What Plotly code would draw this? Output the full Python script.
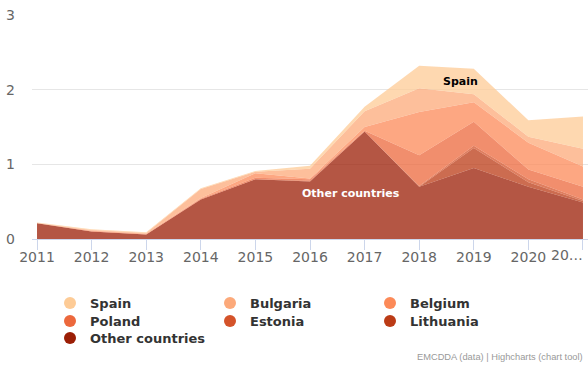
import plotly.graph_objects as go

# Years on the horizontal axis and their tick labels
years = [2011, 2012, 2013, 2014, 2015, 2016, 2017, 2018, 2019, 2020, 2021]
year_labels = ["2011", "2012", "2013", "2014", "2015", "2016", "2017",
               "2018", "2019", "2020", "20…"]

# Per-country values (stacked)
spain = [0.005, 0.01, 0.01, 0.01, 0.01, 0.04, 0.06, 0.30, 0.34, 0.22, 0.43]
bulgaria = [0.005, 0.01, 0.01, 0.12, 0.02, 0.13, 0.21, 0.32, 0.11, 0.08, 0.24]
belgium = [0.0, 0.01, 0.01, 0.01, 0.06, 0.01, 0.05, 0.58, 0.26, 0.36, 0.27]
poland = [0.0, 0.0, 0.0, 0.01, 0.02, 0.02, 0.01, 0.41, 0.32, 0.13, 0.17]
estonia = [0.0, 0.0, 0.0, 0.0, 0.0, 0.01, 0.0, 0.01, 0.03, 0.04, 0.02]
lithuania = [0.0, 0.0, 0.0, 0.0, 0.0, 0.0, 0.0, 0.0, 0.27, 0.06, 0.02]
other_countries = [0.21, 0.10, 0.06, 0.53, 0.80, 0.77, 1.44, 0.70, 0.95, 0.70, 0.49]

y_ticks = [0, 1, 2, 3]

# Legend order (top of the stack first)
legend_order = ["Spain", "Bulgaria", "Belgium", "Poland", "Estonia",
                "Lithuania", "Other countries"]
series = {
    "Spain": spain,
    "Bulgaria": bulgaria,
    "Belgium": belgium,
    "Poland": poland,
    "Estonia": estonia,
    "Lithuania": lithuania,
    "Other countries": other_countries,
}
palette = {
    "Spain": (253, 203, 150),
    "Bulgaria": (252, 169, 122),
    "Belgium": (252, 138, 88),
    "Poland": (236, 104, 60),
    "Estonia": (212, 83, 42),
    "Lithuania": (187, 59, 22),
    "Other countries": (155, 30, 5),
}
# Three legend rows of up to three entries each
legend_rows = {
    "Spain": "legend", "Bulgaria": "legend", "Belgium": "legend",
    "Poland": "legend2", "Estonia": "legend2", "Lithuania": "legend2",
    "Other countries": "legend3",
}


def rgb(c, a=1.0):
    return f"rgba({c[0]},{c[1]},{c[2]},{a})"


FONT = "DejaVu Sans"
TICK_FONT = dict(family=FONT, size=14, color="#666666")
fig = go.Figure()

# Stacked areas: bottom series first
for name in reversed(legend_order):
    fig.add_trace(go.Scatter(
        x=years, y=series[name], name=name, legendgroup=name,
        stackgroup="one", mode="lines",
        line=dict(width=0, color=rgb(palette[name])),
        fillcolor=rgb(palette[name], 0.75),
        showlegend=False, hoverinfo="x+y+name",
    ))

# Legend entries with round symbols
for name in legend_order:
    fig.add_trace(go.Scatter(
        x=[None], y=[None], name=name, legendgroup=name, mode="markers",
        marker=dict(symbol="circle", size=12, color=rgb(palette[name])),
        showlegend=True, legend=legend_rows[name],
    ))

# Series labels inside the areas
fig.add_annotation(x=2018.75, y=2.11, text="<b>Spain</b>", showarrow=False,
                   font=dict(family=FONT, size=11, color="#000000"))
fig.add_annotation(x=2016.75, y=0.61, text="<b>Other countries</b>", showarrow=False,
                   font=dict(family=FONT, size=11, color="#ffffff"))

# Last category label is pulled inside the right edge so it stays readable
fig.add_annotation(x=years[-1], xref="x", yref="paper", y=-0.073, xshift=2,
                   xanchor="right", yanchor="middle", showarrow=False,
                   text=year_labels[-1], font=TICK_FONT)

# Credits line
fig.add_annotation(xref="paper", yref="paper", x=1, y=-0.527, xshift=-3,
                   xanchor="right", yanchor="middle", showarrow=False,
                   text="EMCDDA (data) | Highcharts (chart tool)",
                   font=dict(family="Liberation Sans", size=9.3, color="#999999"))


def legend_row(top_px):
    return dict(
        orientation="h", xref="container", yref="container",
        x=50 / 588, y=1 - top_px / 365, xanchor="left", yanchor="top",
        entrywidth=115, entrywidthmode="pixels",
        itemwidth=30, traceorder="normal",
        font=dict(family=FONT, size=13, color="#333333", weight="bold"),
        bgcolor="rgba(0,0,0,0)",
    )


fig.update_layout(
    width=588, height=365,
    margin=dict(l=32, r=0, t=15, b=126, pad=0, autoexpand=False),
    paper_bgcolor="white", plot_bgcolor="white",
    font=dict(family=FONT, color="#666666"),
    xaxis=dict(
        range=[2010.908, 2021.092], tickmode="array",
        tickvals=years, ticktext=year_labels[:-1] + [""],
        ticks="outside", ticklen=10, tickcolor="#ccd6eb", tickwidth=1,
        showline=True, linecolor="#ccd6eb", linewidth=1,
        showgrid=False, zeroline=False,
        ticklabelstandoff=-5, automargin=False,
        tickfont=TICK_FONT,
    ),
    yaxis=dict(
        range=[0, 3], tickmode="array", tickvals=y_ticks,
        showgrid=True, gridcolor="#e6e6e6", gridwidth=1,
        zeroline=False, showline=False, ticks="",
        ticklabelstandoff=16, automargin=False,
        tickfont=TICK_FONT,
    ),
    legend=legend_row(288),
    legend2=legend_row(306),
    legend3=legend_row(323),
    hovermode="x",
)

fig.write_html("out.html")
